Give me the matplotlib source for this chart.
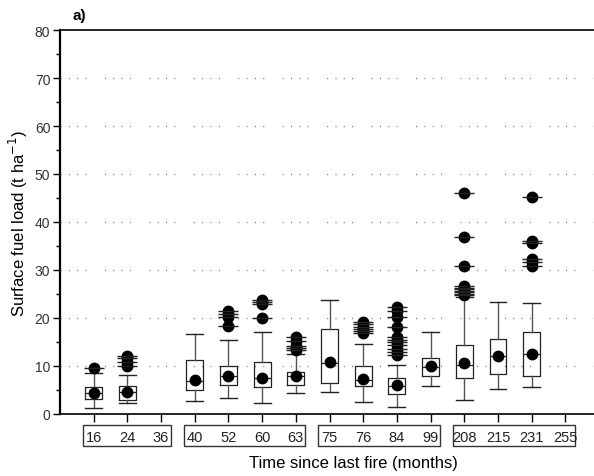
import numpy as np
import matplotlib.pyplot as plt
import matplotlib.transforms as mtransforms
from matplotlib.patches import Rectangle

plt.rcParams['font.family'] = ['Liberation Sans', 'DejaVu Sans']

# months since last fire (category axis)
months = ['16', '24', '36', '40', '52', '60', '63', '75', '76', '84', '99', '208', '215', '231', '255']

# box statistics for the sampled categories (36 and 255 have no data)
has_data = ['16', '24', '40', '52', '60', '63', '75', '76', '84', '99', '208', '215', '231']
q1 = [3.1, 3.0, 5.1, 6.0, 5.6, 6.0, 6.5, 5.8, 4.2, 7.9, 7.6, 8.3, 8.0]
med = [4.3, 4.6, 6.8, 7.85, 7.6, 7.9, 10.6, 7.15, 5.9, 9.85, 10.3, 12.0, 12.4]
q3 = [5.6, 5.8, 11.3, 9.9, 10.9, 8.8, 17.7, 10.1, 7.4, 11.7, 14.4, 15.6, 17.0]
whislo = [1.25, 2.2, 2.8, 3.3, 2.35, 4.4, 4.5, 2.5, 1.5, 5.8, 2.9, 5.2, 5.55]
whishi = [8.5, 8.2, 16.7, 15.4, 17.0, 12.6, 23.75, 14.5, 10.2, 17.1, 24.3, 23.3, 23.1]
means = [4.3, 4.6, 7.1, 7.9, 7.6, 8.0, 10.9, 7.3, 6.0, 10.0, 10.6, 12.1, 12.5]
outliers = [
    [9.5],
    [12.1, 11.6, 10.8, 10.0],
    [],
    [21.4, 20.8, 20.3, 18.3],
    [23.8, 23.4, 23.0, 20.1],
    [16.0, 15.2, 14.2, 13.8, 13.3],
    [],
    [19.2, 18.7, 18.2, 17.7, 17.2, 16.9],
    [22.3, 21.4, 20.3, 18.2, 16.0, 15.4, 14.9, 14.3, 13.6, 12.9, 12.3],
    [],
    [46.0, 36.8, 30.9, 26.7, 26.3, 26.0, 25.7, 25.4, 25.1, 24.8],
    [],
    [45.3, 36.1, 35.6, 32.3, 31.6, 30.8],
]

# groups of categories framed under the axis
groups = [['16', '24', '36'], ['40', '52', '60', '63'], ['75', '76', '84', '99'], ['208', '215', '231', '255']]

fig = plt.figure(figsize=(5.94, 4.77), dpi=100)
ax = fig.add_axes([0.101, 0.130, 0.899, 0.805])

pos = [months.index(m) for m in has_data]
stats = []
for i in range(len(has_data)):
    stats.append(dict(q1=q1[i], med=med[i], q3=q3[i], whislo=whislo[i], whishi=whishi[i],
                      mean=means[i], fliers=outliers[i]))

ax.bxp(stats, positions=pos, widths=0.5, showmeans=True, showfliers=True,
       boxprops=dict(color='#222222', lw=0.9),
       medianprops=dict(color='#222222', lw=0.9),
       whiskerprops=dict(color='#555555', lw=1.0),
       capprops=dict(color='#222222', lw=1.0),
       meanprops=dict(marker='o', markerfacecolor='black', markeredgecolor='black', markersize=7.5),
       flierprops=dict(marker='o', markerfacecolor='black', markeredgecolor='black', markersize=7.5),
       capwidths=0.5)

# horizontal ticks through the outlier dots
for p, o in zip(pos, outliers):
    if o:
        ax.plot([p] * len(o), o, ls='none', marker='_', markersize=14, mew=1.0, color='#222222')

ax.set_xlim(-1, 14.85)
ax.set_ylim(0, 80)
ax.set_yticks(np.arange(0, 81, 10))
ax.set_yticks(np.arange(5, 80, 10), minor=True)
ax.set_xticks(range(len(months)))
ax.set_xticklabels(months)

# sparse dotted grid
for yv in range(10, 80, 10):
    ax.axhline(yv, color='#777777', lw=1.0, ls=(0, (0.7, 5.3, 0.7, 5.3, 0.7, 5.3, 0.7, 13.3)), zorder=0)

for s in ['top', 'bottom']:
    ax.spines[s].set_color('#111111')
    ax.spines[s].set_linewidth(1.3)
ax.spines['right'].set_visible(False)
ax.spines['left'].set_linewidth(1.6)

ax.tick_params(axis='y', which='major', length=5, width=1, labelsize=10, labelcolor='#333333', pad=2)
ax.tick_params(axis='y', which='minor', length=3, width=1)
ax.tick_params(axis='x', length=6, width=1, labelsize=10.5, pad=5.5, labelcolor='#222222')

# frames around the month groups
trans = mtransforms.blended_transform_factory(ax.transData, ax.transAxes)
for g in groups:
    x0 = months.index(g[0]) - 0.33
    x1 = months.index(g[-1]) + 0.28
    ax.add_patch(Rectangle((x0, -0.083), x1 - x0, 0.054, transform=trans, fill=False,
                           lw=1.0, ec='#333333', clip_on=False))

ax.set_ylabel('Surface fuel load (t ha$^{-1}$)', fontsize=12, labelpad=3)
ax.set_xlabel('Time since last fire (months)', fontsize=12)
ax.xaxis.set_label_coords(0.55, -0.107)
fig.text(0.122, 0.966, 'a)', fontsize=11, fontweight='semibold', ha='left', va='center')

fig.savefig('out.png', dpi=100)
